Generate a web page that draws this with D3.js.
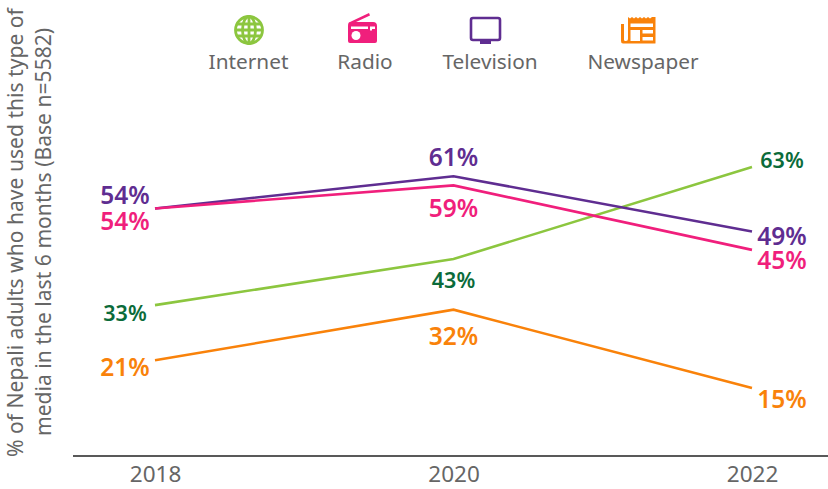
<!DOCTYPE html>
<html><head><meta charset="utf-8">
<script src="https://d3js.org/d3.v7.min.js"></script>
<style>html,body{margin:0;padding:0;background:#fff}svg{display:block}text{font-family:"Noto Sans",sans-serif}</style>
</head><body><svg id="c" width="828" height="489"></svg>
<script>
const years = ["2018","2020","2022"];
const internet = [33,43,63];
const radio = [54,59,45];
const television = [54,61,49];
const newspaper = [21,32,15];
const seriesNames = ["Internet","Radio","Television","Newspaper"];
const yTitle = ["% of Nepali adults who have used this type of","media in the last 6 months (Base n=5582)"];

const colors = {Internet:"#8cc63f",Radio:"#f01f7c",Television:"#5f2d91",Newspaper:"#f9820a"};
const labelColors = {Internet:"#0b6b3a",Radio:"#f01f7c",Television:"#5f2d91",Newspaper:"#f9820a"};
const values = {Internet:internet,Radio:radio,Television:television,Newspaper:newspaper};
// label anchor offsets from each point [dx, baseline dy]
const offsets = {
 Internet:[[-30,16],[0,29],[30,1]],
 Radio:[[-30,22],[0,32],[30,19]],
 Television:[[-30,-4],[0,-10],[30,14]],
 Newspaper:[[-30,16],[0,35],[30,20]]
};
const labelSize = {Internet:21.5,Radio:24.5,Television:24.5,Newspaper:24.5};
const svg = d3.select("#c");
const x = d3.scalePoint().domain(years).range([155,752]);
const y = d3.scaleLinear().domain([0,63]).range([457,167]);
const line = d3.line().x(d=>x(d.year)).y(d=>y(d.v));

svg.append("g").attr("transform","translate(0,456)")
  .call(d3.axisBottom(x).tickSize(0).tickPadding(6))
  .call(g=>{g.select(".domain").remove();
    g.selectAll("text").attr("fill","#666").style("font-size","22.5px").attr("dy","0.9em");});
svg.append("line").attr("x1",73).attr("x2",828).attr("y1",456).attr("y2",456).attr("stroke","#222").attr("stroke-width",1.3);

["Internet","Television","Radio","Newspaper"].forEach(n=>{
  const pts = years.map((yr,i)=>({year:yr,v:values[n][i]}));
  svg.append("path").datum(pts).attr("d",line).attr("fill","none").attr("stroke",colors[n]).attr("stroke-width",2.6);
  svg.append("g").selectAll("text").data(pts).join("text")
    .attr("x",(d,i)=>x(d.year)+offsets[n][i][0]).attr("y",(d,i)=>y(d.v)+offsets[n][i][1])
    .attr("text-anchor","middle").attr("fill",labelColors[n]).attr("font-weight",600)
    .style("font-size",labelSize[n]+"px").text(d=>d.v+"%");
});

// y title
const t = svg.append("g").attr("transform","translate(0,0) rotate(-90)");
t.selectAll("text").data(yTitle).join("text")
  .attr("x",(d,i)=>i==0?-457:-436).attr("y",(d,i)=>i==0?23:51)
  .attr("fill","#666").style("font-size","21.1px").text(d=>d);

// legend
const legX = [248.5,365,490,643];
svg.append("g").selectAll("text").data(seriesNames).join("text")
  .attr("x",(d,i)=>legX[i]).attr("y",69).attr("text-anchor","middle").attr("fill","#666")
  .style("font-size","20.8px").text(d=>d);

// Internet icon
const gi = svg.append("g").attr("transform","translate(249,30)").attr("fill","none").attr("stroke",colors.Internet).attr("stroke-width",2.8);
gi.append("circle").attr("r",13.5);
gi.append("ellipse").attr("rx",6.5).attr("ry",13.5);
gi.append("path").attr("d","M0-13.5V13.5M-13.5 0H13.5M-12-6H12M-12 6H12");
// Radio icon
const gr = svg.append("g").attr("transform","translate(349,13)");
gr.append("path").attr("fill",colors.Radio).attr("d","M1 9 L20 0 L21 2.5 L7 9 H24 Q28 9 28 13 V28 Q28 30 26 30 H1 Q-1 30 -1 28 V13 Q-1 9 1 9Z");
gr.append("circle").attr("cx",7).attr("cy",22.5).attr("r",4.5).attr("fill","#fff");
gr.append("path").attr("fill","#fff").attr("d","M2 13.5H19V16H2ZM21 13.5H26V16H23V17.5H21Z");
// Television icon
const gt = svg.append("g").attr("transform","translate(470,17)");
gt.append("rect").attr("x",1).attr("y",1).attr("width",29).attr("height",22).attr("rx",2).attr("fill","none").attr("stroke",colors.Television).attr("stroke-width",2.6);
gt.append("rect").attr("x",10).attr("y",23).attr("width",11).attr("height",4).attr("fill",colors.Television);
// Newspaper icon
const gn = svg.append("g").attr("transform","translate(621,17)");
gn.append("path").attr("fill",colors.Newspaper).attr("fill-rule","evenodd")
  .attr("d","M7 0 L9 1.5 L11 0 L13 1.5 L15 0 L17 1.5 L19 0 L21 1.5 L23 0 L25 1.5 L27 0 L29 1.5 L31 0 L34.5 0 V26 Q34.5 26.5 34 26.5 H2 Q0 26.5 0 24 V7 H3 V23 Q3 24 4.5 24 H5 Q7 24 7 22Z M9.5 6.5 V10 H32 V6.5Z M9.5 13 V24 H19 V13Z M21.5 13 V16.5 H32 V13Z M21.5 20 V23.5 H32 V20Z");
</script></body></html>
